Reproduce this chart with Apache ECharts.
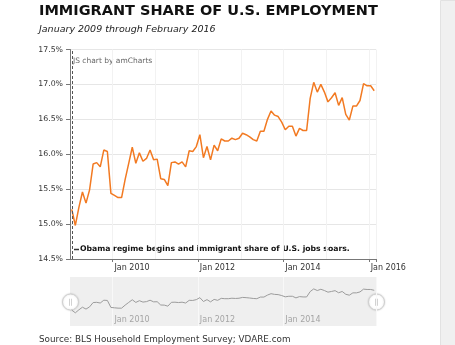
<!DOCTYPE html>
<html>
<head>
<meta charset="utf-8">
<script src="https://cdn.jsdelivr.net/npm/echarts@6/dist/echarts.min.js"></script>
<style>
html,body{margin:0;padding:0;background:#fff;}
#chart{width:455px;height:345px;}
</style>
</head>
<body>
<div id="chart"></div>
<script>
// ---- data ----
const monthNames = ['Jan','Feb','Mar','Apr','May','Jun','Jul','Aug','Sep','Oct','Nov','Dec'];
const years = [2009, 2010, 2011, 2012, 2013, 2014, 2015, 2016];
const lastMonthCount2016 = 2; // data runs through February 2016
const categories = [];
years.forEach(function (y) {
  const n = (y === 2016) ? lastMonthCount2016 : 12;
  for (let i = 0; i < n; i++) categories.push(monthNames[i] + ' ' + y);
});
const share2009 = [15.21, 14.98, 15.24, 15.46, 15.30, 15.49, 15.86, 15.88, 15.82, 16.06, 16.04, 15.44];
const share2010 = [15.41, 15.38, 15.38, 15.64, 15.87, 16.10, 15.87, 16.02, 15.90, 15.94, 16.06, 15.92];
const share2011 = [15.93, 15.65, 15.64, 15.55, 15.88, 15.89, 15.86, 15.89, 15.82, 16.05, 16.04, 16.11];
const share2012 = [16.28, 15.95, 16.11, 15.92, 16.13, 16.05, 16.22, 16.19, 16.19, 16.23, 16.21, 16.23];
const share2013 = [16.30, 16.28, 16.25, 16.21, 16.19, 16.33, 16.33, 16.50, 16.62, 16.56, 16.54, 16.46];
const share2014 = [16.35, 16.40, 16.40, 16.26, 16.37, 16.34, 16.34, 16.80, 17.03, 16.89, 17.00, 16.89];
const share2015 = [16.75, 16.81, 16.88, 16.70, 16.81, 16.57, 16.49, 16.69, 16.69, 16.77, 17.01, 16.98];
const share2016 = [16.98, 16.91];
const shareValues = [].concat(share2009, share2010, share2011, share2012, share2013, share2014, share2015, share2016);
const xTickLabels = ['Jan 2010', 'Jan 2012', 'Jan 2014', 'Jan 2016'];
const scrollTickLabels = ['Jan 2010', 'Jan 2012', 'Jan 2014'];
const yMin = 14.5, yMax = 17.5, yStep = 0.5;
const titleText = 'IMMIGRANT SHARE OF U.S. EMPLOYMENT';
const subtitleText = 'January 2009 through February 2016';
const sourceText = 'Source: BLS Household Employment Survey; VDARE.com';
const guideText = 'Obama regime begins and immigrant share of U.S. jobs soars.';
const creditText = 'JS chart by amCharts';

// ---- chart ----
const FONT = '"DejaVu Sans", Verdana, sans-serif';
const chart = echarts.init(document.getElementById('chart'), null, {renderer: 'canvas'});
const isLabelCat = function (idx, val) { return xTickLabels.indexOf(val) >= 0; };
const isScrollCat = function (idx, val) { return scrollTickLabels.indexOf(val) >= 0; };
const isJanuary = function (idx, val) { return String(val).indexOf('Jan') === 0; };

chart.setOption({
  animation: false,
  backgroundColor: '#ffffff',
  grid: [
    {left: 70, right: 79, top: 49.5, bottom: 86},
    {left: 70, right: 79, top: 277, height: 49, show: true, backgroundColor: '#efefef', borderWidth: 0}
  ],
  xAxis: [
    {
      type: 'category', gridIndex: 0, data: categories, boundaryGap: true,
      axisLine: {show: true, lineStyle: {color: '#777', width: 1}},
      axisTick: {show: true, interval: isLabelCat, length: 3, lineStyle: {color: '#777'}},
      axisLabel: {interval: isLabelCat, align: 'left', margin: 5, fontSize: 8, color: '#333', fontFamily: FONT},
      splitLine: {show: true, interval: isJanuary, lineStyle: {color: '#f2f2f2', width: 1}}
    },
    {
      type: 'category', gridIndex: 1, data: categories, boundaryGap: true,
      axisLine: {show: false}, axisTick: {show: false},
      axisLabel: {interval: isScrollCat, inside: true, align: 'left', margin: 2, fontSize: 8, color: '#a5a5a5', fontFamily: FONT},
      splitLine: {show: true, interval: isScrollCat, lineStyle: {color: '#f8f8f8', width: 1}}
    }
  ],
  yAxis: [
    {
      type: 'value', gridIndex: 0, min: yMin, max: yMax, interval: yStep,
      axisLine: {show: true, lineStyle: {color: '#777', width: 1}},
      axisTick: {show: true, length: 4, lineStyle: {color: '#777'}},
      axisLabel: {margin: 7, fontSize: 7.8, color: '#333', fontFamily: FONT,
        formatter: function (v) { return v.toFixed(1) + '%'; }},
      splitLine: {show: true, lineStyle: {color: '#e6e6e6', width: 1}}
    },
    {
      type: 'value', gridIndex: 1, min: 13.85, max: 18.05,
      show: false, splitLine: {show: false}
    }
  ],
  series: [
    {
      type: 'line', xAxisIndex: 0, yAxisIndex: 0, data: shareValues,
      symbol: 'none', lineStyle: {color: '#f27a22', width: 1.5}, itemStyle: {color: '#f27a22'},
      markLine: {
        silent: true, symbol: ['none', 'none'],
        label: {show: false},
        lineStyle: {color: '#555', type: [3, 2], width: 1},
        data: [{xAxis: 0.4}]
      }
    },
    {
      type: 'line', xAxisIndex: 1, yAxisIndex: 1, data: shareValues, silent: true,
      symbol: 'none', lineStyle: {color: '#9c9c9c', width: 1}, itemStyle: {color: '#9c9c9c'}
    }
  ],
  graphic: [
    {type: 'rect', left: 440, top: 0, shape: {width: 15, height: 345}, style: {fill: '#f0f0f0', stroke: '#e2e2e2', lineWidth: 1}, silent: true},
    {type: 'text', x: 39, y: 4, style: {text: titleText, font: 'bold 14.5px ' + FONT, fill: '#111', textVerticalAlign: 'top'}},
    {type: 'text', x: 39, y: 25, style: {text: subtitleText, font: 'italic 9.5px ' + FONT, fill: '#222', textVerticalAlign: 'top'}},
    {type: 'text', x: 39, y: 335.5, style: {text: sourceText, font: '8.8px ' + FONT, fill: '#333', textVerticalAlign: 'top'}},
    {type: 'text', x: 73, y: 57.5, style: {text: creditText, font: '7.5px ' + FONT, fill: '#666', textVerticalAlign: 'top'}},
    {type: 'line', shape: {x1: 74, y1: 249.5, x2: 79, y2: 249.5}, style: {stroke: '#333', lineWidth: 1.5}},
    {type: 'text', x: 80, y: 249.5, style: {text: guideText, font: 'bold 7.7px ' + FONT, fill: '#111', textVerticalAlign: 'middle'}},
    {type: 'circle', shape: {cx: 70.5, cy: 302, r: 8}, style: {fill: '#fff', stroke: '#d0d0d0', lineWidth: 1, shadowBlur: 2, shadowColor: 'rgba(0,0,0,0.15)'}},
    {type: 'text', x: 70.5, y: 302, style: {text: '||', font: '7px ' + FONT, fill: '#b5b5b5', textAlign: 'center', textVerticalAlign: 'middle'}},
    {type: 'circle', shape: {cx: 376.5, cy: 302, r: 8}, style: {fill: '#fff', stroke: '#d0d0d0', lineWidth: 1, shadowBlur: 2, shadowColor: 'rgba(0,0,0,0.15)'}},
    {type: 'text', x: 376.5, y: 302, style: {text: '||', font: '7px ' + FONT, fill: '#b5b5b5', textAlign: 'center', textVerticalAlign: 'middle'}}
  ]
});
</script>
</body>
</html>
